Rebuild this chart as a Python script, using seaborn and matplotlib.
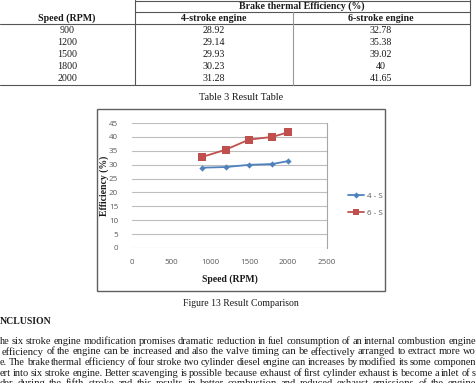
import matplotlib
matplotlib.use("Agg")
import matplotlib.pyplot as plt
import seaborn as sns
import pandas as pd
from matplotlib.lines import Line2D

# ---------------- data ----------------
speeds = [900, 1200, 1500, 1800, 2000]
eff_4s = [28.92, 29.14, 29.93, 30.23, 31.28]
eff_6s = [32.78, 35.38, 39.02, 40, 41.65]
eff_6s_text = ["32.78", "35.38", "39.02", "40", "41.65"]
eff_4s_text = ["28.92", "29.14", "29.93", "30.23", "31.28"]
series_names = ["4 - S", "6 - S"]
x_ticks = [0, 500, 1000, 1500, 2000, 2500]
y_ticks = [0, 5, 10, 15, 20, 25, 30, 35, 40, 45]
table_header_top = "Brake thermal Efficiency (%)"
table_cols = ["Speed (RPM)", "4-stroke engine", "6-stroke engine"]
table_caption = "Table 3 Result Table"
fig_caption = "Figure 13 Result Comparison"
heading = "NCLUSION"
para_lines = [
    "he six stroke engine modification promises dramatic reduction in fuel consumption of an internal combustion engine",
    "efficiency of the engine can be increased and also the valve timing can be effectively arranged to extract more wo",
    "e. The brake thermal efficiency of four stroke two cylinder diesel engine can increases by modified its some componen",
    "ert into six stroke engine. Better scavenging is possible because exhaust of first cylinder exhaust is become a inlet of s",
    "der during the fifth stroke and this results in better combustion and reduced exhaust emissions of the engine",
]

W, H = 477, 383
sns.set_theme(style="white")
plt.rcParams["font.family"] = ["Liberation Serif", "DejaVu Serif"]

fig = plt.figure(figsize=(W / 100, H / 100), dpi=100)
fig.patch.set_facecolor("white")

SERIF = "Liberation Serif"
TXT = "#1a1a1a"


def fx(x):
    return x / W


def fy(y):
    return 1 - y / H


def hline(x0, x1, y, color="#555555", lw=0.8):
    fig.add_artist(Line2D([fx(x0), fx(x1)], [fy(y), fy(y)], color=color, lw=lw,
                          transform=fig.transFigure))


def vline(x, y0, y1, color="#555555", lw=0.8):
    fig.add_artist(Line2D([fx(x), fx(x)], [fy(y0), fy(y1)], color=color, lw=lw,
                          transform=fig.transFigure))


def txt(x, y, s, size=7.2, weight="normal", ha="center", color=TXT, **kw):
    return fig.text(fx(x), fy(y), s, fontsize=size, fontweight=weight, ha=ha,
                    va="center", color=color, family=SERIF, **kw)


# ---------------- table ----------------
hline(135, 470, 0.5)
hline(135, 470, 12)
hline(0, 470, 24)
hline(0, 470, 84.5)
vline(135, 0, 84.5)
vline(470, 0, 84.5)
vline(293, 12, 84.5, color="#999999")
txt(302, 6.5, table_header_top, weight="bold", size=7.1)
txt(67, 18.5, table_cols[0], weight="bold")
txt(214, 18.5, table_cols[1], weight="bold")
txt(381, 18.5, table_cols[2], weight="bold")
row_y = [30.5, 42.5, 54.5, 66.5, 78.5]
for ry, s, a, b in zip(row_y, speeds, eff_4s_text, eff_6s_text):
    txt(67, ry, str(s))
    txt(214, ry, a)
    txt(381, ry, b)
txt(241, 97, table_caption, size=7.4)

# ---------------- chart frame ----------------
fig.add_artist(plt.Rectangle((fx(97), fy(291)), fx(385) - fx(97), fy(109) - fy(291),
                             fill=False, edgecolor="#606060", lw=1.0,
                             transform=fig.transFigure))

ax = fig.add_axes([fx(132), fy(248), fx(327) - fx(132), fy(123) - fy(248)])
df = pd.DataFrame({
    "Speed": speeds * 2,
    "Eff": eff_4s + eff_6s,
    "Series": [series_names[0]] * len(speeds) + [series_names[1]] * len(speeds),
})
palette = {series_names[0]: "#4F81BD", series_names[1]: "#C0504D"}
markers = {series_names[0]: "D", series_names[1]: "s"}
sns.lineplot(data=df, x="Speed", y="Eff", hue="Series", style="Series",
             markers=markers, dashes=False, palette=palette, ax=ax,
             lw=1.3, markeredgewidth=0, legend=False)
for ln, ms in zip(ax.get_lines(), [3.2, 5.5]):
    ln.set_markersize(ms)

ax.set_xlim(0, 2500)
ax.set_ylim(0, 45)
ax.set_xticks(x_ticks)
ax.set_yticks(y_ticks)
ax.grid(axis="y", color="#BDBDBD", lw=0.8)
ax.grid(axis="x", visible=False)
ax.set_axisbelow(True)
for side in ["left", "top", "bottom"]:
    ax.spines[side].set_visible(False)
ax.spines["right"].set_visible(True)
ax.spines["right"].set_color("#A6A6A6")
ax.spines["right"].set_linewidth(0.8)
ax.tick_params(axis="both", length=0, labelsize=5.8, labelcolor="#595959")
ax.tick_params(axis="y", pad=10)
ax.tick_params(axis="x", pad=8)
for lab in ax.get_xticklabels() + ax.get_yticklabels():
    lab.set_family("Open Sans")
ax.set_xlabel("Speed (RPM)", fontsize=7, fontweight="bold", family=SERIF, color=TXT)
ax.set_ylabel("Efficiency (%)", fontsize=7, fontweight="bold", family=SERIF, color=TXT)
ax.xaxis.set_label_coords(0.5, -26 / 125)
ax.yaxis.set_label_coords((109 - 132) / 195, 0.5)

handles = [Line2D([], [], color="#4F81BD", marker="D", ms=3.2, lw=1.3, mew=0),
           Line2D([], [], color="#C0504D", marker="s", ms=4.5, lw=1.3, mew=0)]
leg = ax.legend(handles, series_names, loc="center left", frameon=False,
                bbox_to_anchor=(fx(341), fy(204.5)), bbox_transform=fig.transFigure,
                handlelength=2.0, handletextpad=0.3, labelspacing=1.2,
                prop={"family": "Open Sans", "size": 5.8})
for t in leg.get_texts():
    t.set_color("#595959")

# ---------------- captions & text ----------------
txt(241, 304, fig_caption, size=7)
fig.text(fx(0), fy(322), heading, fontsize=7, fontweight="bold", ha="left",
         va="center", color=TXT, family=SERIF)

renderer = fig.canvas.get_renderer()


def word_widths(words, size):
    out = []
    for w in words:
        t = fig.text(0, 0, w, fontsize=size, family=SERIF)
        out.append(t.get_window_extent(renderer).width)
        t.remove()
    return out


def justified(line, x0, x1, y, size=7.6):
    words = line.split()
    widths = word_widths(words, size)
    while (x1 - x0 - sum(widths)) / (len(words) - 1) < 1.8 and size > 5:
        size -= 0.1
        widths = word_widths(words, size)
    gap = (x1 - x0 - sum(widths)) / (len(words) - 1)
    x = x0
    for w, wd in zip(words, widths):
        fig.text(fx(x), fy(y), w, fontsize=size, family=SERIF, ha="left",
                 va="center", color=TXT)
        x += wd + gap


line_specs = [(0, 476, 341), (2, 476, 352), (0, 476, 362.5), (0, 476, 373), (0, 476, 384)]
for line, (x0, x1, y) in zip(para_lines, line_specs):
    justified(line, x0, x1, y)

fig.savefig("out.png", dpi=100)
